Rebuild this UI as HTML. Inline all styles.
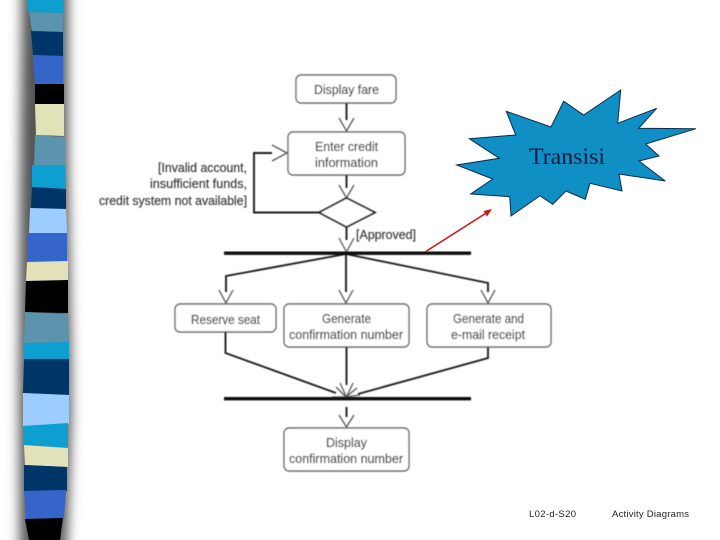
<!DOCTYPE html>
<html><head><meta charset="utf-8"><style>
html,body{margin:0;padding:0;background:#fff;width:720px;height:540px;overflow:hidden}
svg{display:block}
.d text{font-family:"Liberation Sans",sans-serif;font-size:12.5px;fill:#3c3c3c;stroke:#3c3c3c;stroke-width:.2}
.l{fill:none;stroke:#1c1c1c;stroke-width:1.9}
.a{fill:none;stroke:#555;stroke-width:1.3}
.b{fill:#fff;stroke:#666;stroke-width:1.4}
.f{font-family:"Liberation Sans",sans-serif;font-size:9.5px;fill:#222}
</style></head><body>
<svg width="720" height="540" viewBox="0 0 720 540" xmlns="http://www.w3.org/2000/svg">
<defs>
<filter id="s" x="-100%" y="-10%" width="300%" height="120%"><feGaussianBlur stdDeviation="6"/></filter>
<filter id="t" x="-5%" y="-5%" width="110%" height="110%"><feGaussianBlur stdDeviation="0.4"/></filter>
<filter id="u" x="-5%" y="-5%" width="110%" height="110%"><feGaussianBlur stdDeviation="0.3"/></filter>
</defs>
<polygon points="22,-20 68,-20 68,165 71,359 71,425 68,519 66,560 20,560 19,394 20,200" fill="#555" filter="url(#s)"/>
<g filter="url(#u)">
<polygon points="27,0 63,0 63,13 28,12" fill="#0f9fd0"/>
<polygon points="29,12 63,13 63,32 32,31" fill="#5b93ad"/>
<polygon points="31,31 63,32 63,56 33,55" fill="#003668"/>
<polygon points="33,55 63,56 63,84 35,85" fill="#3565c9"/>
<polygon points="35,84 64,84 64,104 35,104" fill="#000"/>
<polygon points="35,104 64,104 64,136 36,135" fill="#e2e2b8"/>
<polygon points="35,135 65,137 65,165 34,165" fill="#5b93ad"/>
<polygon points="32,165 65,165 66,189 32,187" fill="#0f9fd0"/>
<polygon points="32,187 66,189 66,209 31,208" fill="#003668"/>
<polygon points="30,208 66,209 67,233 29,233" fill="#9dcdff"/>
<polygon points="28,233 67,233 67,263 27,262" fill="#3565c9"/>
<polygon points="27,262 68,261 68,281 26,281" fill="#e2e2b8"/>
<polygon points="26,281 68,280 68,313 25,312" fill="#000"/>
<polygon points="25,312 68,314 69,343 24,343" fill="#5b93ad"/>
<polygon points="24,343 69,342 69,359 24,359" fill="#0f9fd0"/>
<polygon points="24,359 69,359 69,395 23,393" fill="#003668"/>
<polygon points="23,393 69,395 69,424 23,426" fill="#9dcdff"/>
<polygon points="23,426 68,423 68,448 24,445" fill="#0f9fd0"/>
<polygon points="24,445 68,448 68,467 25,465" fill="#e2e2b8"/>
<polygon points="24,465 67,467 67,491 24,491" fill="#003668"/>
<polygon points="24,491 66,490 64,518 26,520" fill="#3565c9"/>
<polygon points="25,519 63,518 60,540 29,540" fill="#000"/>
</g>
<g class="d" filter="url(#t)">
<rect class="b" x="296" y="75" width="100" height="28" rx="5"/>
<rect class="b" x="288" y="132" width="117" height="43" rx="5"/>
<rect class="b" x="175" y="304" width="101" height="28" rx="5"/>
<rect class="b" x="284" y="304" width="125" height="43" rx="5"/>
<rect class="b" x="427" y="304" width="124" height="43" rx="5"/>
<rect class="b" x="284" y="428" width="125" height="43" rx="5"/>
<path class="l" d="M346.500 103V120M346.500 175V188M346.500 227V240"/>
<path class="l" d="M319 212.500H254V153H272"/>
<path class="l" d="M346 254L226 276V292M346 254V292M346 254L488 283V292"/>
<path class="l" d="M225.500 332V353L336 393M346.500 347V385M488 347V358L358 394M346.500 407V417"/>
<path class="a" d="M339 118L346.500 131L354 118"/>
<path class="a" d="M272 145L287 153L272 161"/>
<path class="a" d="M339 185L346.500 198L354 185M339 238L346.500 252L354 238"/>
<path class="a" d="M219 290L226 303L233 290M339 290L346 303L353 290M481 290L488 303L495 290"/>
<path class="a" d="M332 397L346 397L336 387M340 383L346.500 397L353 383M360 395L346 397L357 388M339 415L346.500 427L354 415"/>
<polygon points="319,212.500 346.500,198 375,212.500 346.500,227" fill="#fff" stroke="#1c1c1c" stroke-width="1.800"/>
<rect x="224" y="251.500" width="247" height="3.400" fill="#111"/>
<rect x="224" y="397" width="247" height="3.400" fill="#111"/>
<text x="314" y="94" textLength="65" lengthAdjust="spacingAndGlyphs">Display fare</text>
<text x="315" y="151" textLength="63" lengthAdjust="spacingAndGlyphs">Enter credit</text>
<text x="315" y="167" textLength="63" lengthAdjust="spacingAndGlyphs">information</text>
<text x="158" y="172" textLength="89" lengthAdjust="spacingAndGlyphs">[Invalid account,</text>
<text x="150" y="188" textLength="97" lengthAdjust="spacingAndGlyphs">insufficient funds,</text>
<text x="99" y="205" textLength="148" lengthAdjust="spacingAndGlyphs">credit system not available]</text>
<text x="356" y="239" textLength="60" lengthAdjust="spacingAndGlyphs">[Approved]</text>
<text x="191" y="324" textLength="69" lengthAdjust="spacingAndGlyphs">Reserve seat</text>
<text x="322" y="323" textLength="49" lengthAdjust="spacingAndGlyphs">Generate</text>
<text x="289" y="339" textLength="114" lengthAdjust="spacingAndGlyphs">confirmation number</text>
<text x="453" y="323" textLength="71" lengthAdjust="spacingAndGlyphs">Generate and</text>
<text x="451" y="339" textLength="74" lengthAdjust="spacingAndGlyphs">e-mail receipt</text>
<text x="326" y="447" textLength="41" lengthAdjust="spacingAndGlyphs">Display</text>
<text x="289" y="463" textLength="114" lengthAdjust="spacingAndGlyphs">confirmation number</text>
</g>
<polygon fill="#0f8fc4" stroke="#0b2a4a" stroke-width="1" points="620.700,90 617.700,123.300 656.700,108.300 638.700,128.300 696,128.700 645.700,144 659,156 639,161 665.300,181 619,174 622,191 590,183.300 585.300,199.300 566,191 552.700,204.300 540,195.700 511,216 509.700,196.700 470.700,194 492.700,179 456.700,165 499.300,158.300 469.300,138.700 515.700,135 506.300,111.300 551,127 563.700,101.300 583.700,115"/>
<text x="529" y="164" font-family="'Liberation Serif',serif" font-size="23.500" fill="#001a40" textLength="76" lengthAdjust="spacingAndGlyphs">Transisi</text>
<line x1="425" y1="252" x2="487" y2="212.500" stroke="#d0141c" stroke-width="1.600"/>
<polygon points="492,209 483.500,211 487,216.500" fill="#d0141c"/>
<text class="f" x="529" y="517" textLength="47">L02-d-S20</text>
<text class="f" x="612" y="517" textLength="77">Activity Diagrams</text>
</svg>
</body></html>
